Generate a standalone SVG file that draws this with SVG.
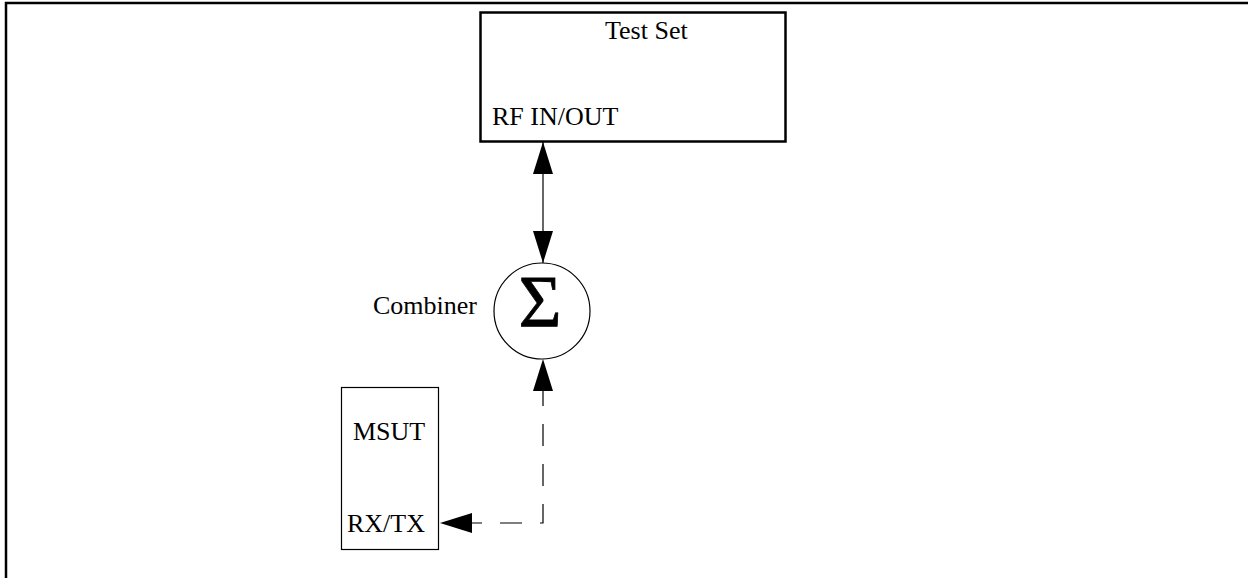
<svg xmlns="http://www.w3.org/2000/svg" width="1248" height="578" viewBox="0 0 1248 578">
<style>
  .lbl { font-family: "Liberation Serif", "Times New Roman", serif; font-size: 26px; fill: #000; }
  .sigma { font-family: "Liberation Serif", "Times New Roman", serif; font-size: 74px; fill: #000; text-anchor: middle; }
  .box { fill: #fff; stroke: #000; }
  .conn { fill: none; stroke: #000; stroke-width: 1.2; }
  .dash { stroke-dasharray: 22 18; stroke-dashoffset: 12; }
</style>
<defs>
  <marker id="arr" markerUnits="userSpaceOnUse" markerWidth="32" markerHeight="20" refX="32" refY="10" orient="auto-start-reverse" viewBox="0 0 32 20">
    <path d="M0,0 L32,10 L0,20 Z" fill="#000"/>
  </marker>
</defs>
<rect width="1248" height="578" fill="#fff"/>
<path d="M6,578 L6,3 L1248,3" fill="none" stroke="#000" stroke-width="2.5"/>

<g id="test-set">
  <rect class="box" x="480.5" y="12.5" width="305" height="129" stroke-width="2.5"/>
  <text class="lbl" x="605" y="39">Test Set</text>
  <text class="lbl" x="492" y="125">RF IN/OUT</text>
</g>

<g id="combiner">
  <circle class="box" cx="542" cy="311" r="48" stroke-width="1.2"/>
  <text class="sigma" x="540" y="327" stroke="#000" stroke-width="0.8">Σ</text>
  <text class="lbl" x="373" y="314">Combiner</text>
</g>

<g id="msut">
  <rect class="box" x="341.5" y="387.5" width="97" height="162" stroke-width="1.2"/>
  <text class="lbl" x="353" y="440">MSUT</text>
  <text class="lbl" x="347" y="532">RX/TX</text>
</g>

<g id="connectors">
  <line class="conn" x1="543" y1="142" x2="543" y2="263" marker-start="url(#arr)" marker-end="url(#arr)"/>
  <path class="conn dash" d="M472,523 L543,523 L543,391"/>
  <path d="M533,391 L543,359 L553,391 Z" fill="#000"/>
  <path d="M472,513 L440,523 L472,533 Z" fill="#000"/>
</g>
</svg>
